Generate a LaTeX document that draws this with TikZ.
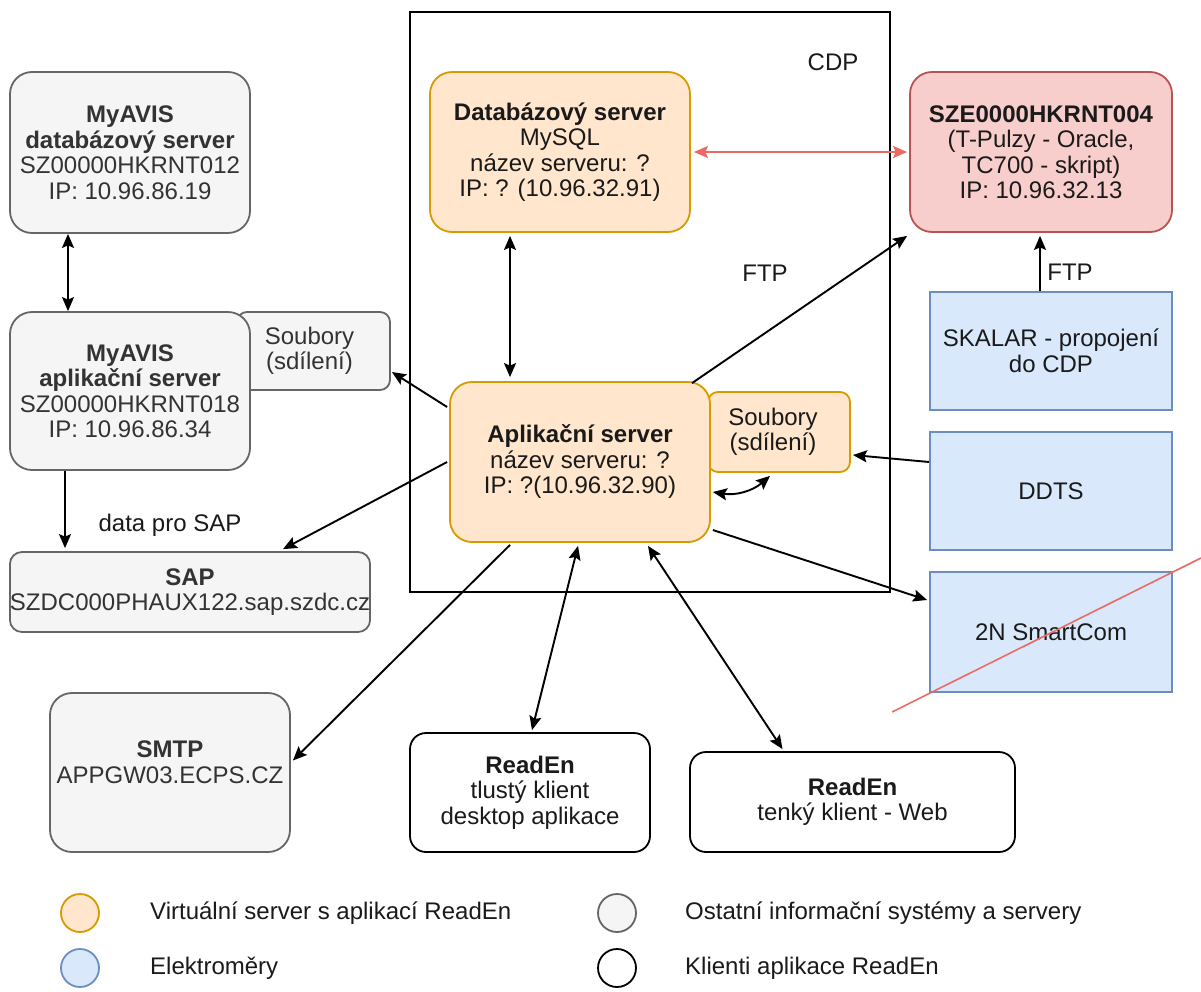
\documentclass[tikz,border=0pt]{standalone}
\usepackage{fontspec}
\setmainfont{Liberation Sans}
\usetikzlibrary{arrows.meta,calc}
\definecolor{orF}{HTML}{FFE6CC}
\definecolor{orD}{HTML}{D79B00}
\definecolor{grF}{HTML}{F5F5F5}
\definecolor{grD}{HTML}{666666}
\definecolor{grT}{HTML}{333333}
\definecolor{rdF}{HTML}{F8CECC}
\definecolor{rdD}{HTML}{B85450}
\definecolor{rdL}{HTML}{EA6B66}
\definecolor{blF}{HTML}{DAE8FC}
\definecolor{blD}{HTML}{6C8EBF}
\definecolor{txt}{HTML}{1A1A1A}
\begin{document}
\begin{tikzpicture}[x=1pt,y=-1pt,
  sz/.style 2 args={minimum width=#1pt, minimum height=#2pt},
  box/.style={draw, line width=1.8pt, align=center, inner sep=0pt, text=txt,
    font=\fontsize{24}{25.5}\selectfont},
  orbox/.style={box, rounded corners=22pt, fill=orF, draw=orD},
  grbox/.style={box, rounded corners=22pt, fill=grF, draw=grD, text=grT},
  rdbox/.style={box, rounded corners=22pt, fill=rdF, draw=rdD},
  blbox/.style={box, fill=blF, draw=blD},
  whbox/.style={box, rounded corners=16pt, fill=white, draw=black},
  tip/.tip={Stealth[length=14pt,width=12pt,inset=2.5pt]},
  arr/.style={-tip, line width=1.9pt, draw=black},
  darr/.style={tip-tip, line width=1.9pt, draw=black},
  lbl/.style={text=txt, font=\fontsize{24}{25.5}\selectfont, inner sep=0pt},
  lgc/.style={circle, line width=1.8pt, minimum size=38pt, inner sep=0pt},
  lgt/.style={anchor=west, text=txt, font=\fontsize{24}{26}\selectfont, inner sep=0pt}
]
\useasboundingbox (0,0) rectangle (1201,991);
\fill[white] (0,0) rectangle (1201,991);

% CDP container
\node[draw=black, line width=1.8pt, sz={480}{580}, inner sep=0pt] (cdp) at (650,302) {};
\node[lbl] (cdpl) at (833,62) {CDP};

% left column
\node[grbox, sz={240}{161}] (mydb) at (130,152.5)
  {\textbf{MyAVIS}\\\textbf{databázový server}\\SZ00000HKRNT012\\IP: 10.96.86.19};
\node[grbox, rounded corners=10pt, sz={153}{78}] (souL) at (313.5,351) {\hspace*{-8pt}Soubory\\\hspace*{-8pt}(sdílení)};
\node[grbox, sz={240}{158}] (myapp) at (130,391)
  {\textbf{MyAVIS}\\\textbf{aplikační server}\\SZ00000HKRNT018\\IP: 10.96.86.34};
\node[grbox, rounded corners=12pt, sz={360}{80}] (sap) at (190,592)
  {\textbf{SAP}\\SZDC000PHAUX122.sap.szdc.cz};
\node[grbox, sz={240}{159}] (smtp) at (170,772.5)
  {\textbf{SMTP}\\APPGW03.ECPS.CZ\\[-5pt]};

% clients
\node[whbox, sz={240}{119}] (rt) at (530,792.5)
  {\textbf{ReadEn}\\tlustý klient\\desktop aplikace};
\node[whbox, sz={325}{100}] (rw) at (852.5,802)
  {\textbf{ReadEn}\\tenký klient - Web};

% CDP servers
\node[orbox, sz={260}{160}] (db) at (560,152)
  {\textbf{Databázový server}\\MySQL\\název serveru: ?\\IP: ? (10.96.32.91)};
\node[orbox, rounded corners=10pt, sz={142}{80}] (souR) at (779,432) {\hspace*{-12pt}Soubory\\\hspace*{-12pt}(sdílení)};
\node[orbox, sz={260}{160}] (app) at (580,462)
  {\textbf{Aplikační server}\\název serveru: ?\\IP: ?(10.96.32.90)};

% right column
\node[rdbox, sz={262}{160}] (sze) at (1041,152)
  {\textbf{SZE0000HKRNT004}\\(T-Pulzy - Oracle,\\TC700 - skript)\\IP: 10.96.32.13};
\node[blbox, sz={242}{118}] (skalar) at (1051,351) {SKALAR - propojení\\do CDP};
\node[blbox, sz={242}{118}] (ddts) at (1051,491) {DDTS};
\node[blbox, sz={242}{120}] (sc) at (1051,632) {2N SmartCom};

% strike-through
\coordinate (s1) at (892,712);
\coordinate (s2) at (1201,558);
\draw[rdL, line width=1.6pt] (s1) -- (s2);

% connectors
\draw[darr] ([xshift=-62pt]mydb.south) -- ([xshift=-62pt]myapp.north);
\draw[arr] ([xshift=-65pt]myapp.south) -- ([xshift=-125pt,yshift=3pt]sap.north);
\node[lbl] (dsap) at (170,525) {data pro SAP};

\draw[darr, draw=rdL, color=rdL] ([xshift=3pt]db.east) -- ([xshift=-2pt]sze.west);
\draw[darr] ([xshift=-50pt,yshift=-3pt]db.south) -- ([xshift=-70pt,yshift=4pt]app.north);

\draw[arr] ([xshift=-2pt,yshift=55pt]app.west) -- ([xshift=1pt,yshift=-21pt]souL.east);
\draw[arr] ([xshift=-2pt]app.west) -- ([xshift=93pt,yshift=2pt]sap.north);
\draw[arr] ([xshift=-70pt,yshift=-2pt]app.south) -- ([xshift=2pt,yshift=12pt]smtp.east);
\draw[darr] ([xshift=-2pt,yshift=-3pt]app.south) -- ([xshift=2pt,yshift=2pt]rt.north);
\draw[darr] ([xshift=68pt,yshift=-3pt]app.south) -- ([xshift=-70pt,yshift=2pt]rw.north);
\draw[arr] ([xshift=2pt,yshift=-68pt]app.east) -- ([xshift=-2pt,yshift=32pt]sc.west);
\draw[arr] ([yshift=29pt]ddts.west) -- ([xshift=2pt,yshift=-23pt]souR.east);
\draw[darr] ([xshift=2pt,yshift=-30pt]app.east) to[bend right=25] ([xshift=-9pt,yshift=-3pt]souR.south);
\draw[arr] ([xshift=112pt,yshift=-2pt]app.north) -- ([xshift=-2pt,yshift=-3pt]sze.south west);
\node[lbl] (ftp1) at (765,273) {FTP};
\draw[arr] ([xshift=-11pt]skalar.north) -- ([xshift=-1pt,yshift=-3pt]sze.south);
\node[lbl] (ftp2) at (1070,272) {FTP};

% legend
\node[lgc, fill=orF, draw=orD] (l1) at (80,913) {};
\node[lgt] (l1t) at (150,913) {Virtuální server s aplikací ReadEn};
\node[lgc, fill=blF, draw=blD] (l2) at (80,968) {};
\node[lgt] (l2t) at (150,968) {Elektroměry};
\node[lgc, fill=grF, draw=grD] (l3) at (617,913) {};
\node[lgt] (l3t) at (685,913) {Ostatní informační systémy a servery};
\node[lgc, fill=white, draw=black] (l4) at (617,968) {};
\node[lgt] (l4t) at (685,968) {Klienti aplikace ReadEn};
\end{tikzpicture}
\end{document}
